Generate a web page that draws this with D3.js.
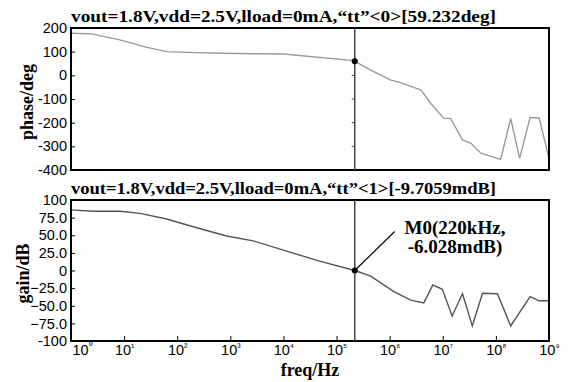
<!DOCTYPE html>
<html lang="en">
<head>
    <meta charset="UTF-8">
    <title>Bode plot</title>
    <script src="https://cdnjs.cloudflare.com/ajax/libs/d3/7.8.5/d3.min.js"></script>
    <style>
        body { margin: 0; padding: 0; background: #fff; }
        svg { display: block; }
        .title { font-family: "Liberation Serif", "Times New Roman", serif; font-size: 17px; font-weight: bold; }
        .ann { font-family: "Liberation Serif", "Times New Roman", serif; font-size: 19px; font-weight: bold; }
        .ylab, .xlab { font-family: "Liberation Serif", "Times New Roman", serif; font-size: 18px; font-weight: bold; }
        .tick text { font-family: "Liberation Sans", Arial, sans-serif; font-size: 14.5px; fill: #000; }
        .frame { fill: none; stroke: #000; stroke-width: 2px; }
    </style>
</head>
<body>
<div id="chart"></div>
<script>
// data
const phaseFreq = [1, 2.45, 8.3, 27, 63, 150, 650, 1e4, 2.1e5, 4.4e5, 1.05e6, 1.6e6, 3.9e6, 5.9e6, 1.05e7, 1.4e7, 2.35e7, 3.4e7, 5.2e7, 1.23e8, 1.9e8, 2.8e8, 4.4e8, 6.5e8, 1e9];
const phaseDeg  = [178, 175, 150, 118, 100, 97, 93, 90, 62, 22, -20, -31, -62, -118, -182, -182, -273, -287, -329, -355, -182, -351, -179, -179, -351];

const gainFreq = [1, 2.6, 8.3, 20, 63, 200, 850, 2700, 1e4, 4.4e4, 2.2e5, 4.4e5, 1.2e6, 2.5e6, 4.4e6, 6.5e6, 9.8e6, 1.5e7, 2.35e7, 3.6e7, 5.6e7, 1.07e8, 1.9e8, 4.4e8, 6.5e8, 1e9];
const gainDb   = [86, 84, 84, 81, 73, 62, 49, 42, 29, 14, 0, -8, -30, -42, -46, -20.5, -26.7, -64.5, -33, -78.7, -32.3, -33, -78.7, -37, -43, -43];

const phaseTicks = [200, 100, 0, -100, -200, -300, -400];
const gainTicks = [100, 75, 50, 25, 0, -25, -50, -75, -100];
const freqTicks = [1, 1e1, 1e2, 1e3, 1e4, 1e5, 1e6, 1e7, 1e8, 1e9];

const markerFreq = 2.2e5;
const markerPhase = 59.232;
const markerGain = 0;

const W = 568, H = 382;
const left = 71, right = 549;

const svg = d3.select("#chart").append("svg")
    .attr("width", W).attr("height", H);

const x = d3.scaleLog().domain([1, 1e9]).range([left, right]);
const yP = d3.scaleLinear().domain([-400, 200]).range([170, 28]);
const yG = d3.scaleLinear().domain([-100, 100]).range([341, 200]);

const sup = "⁰¹²³⁴⁵⁶⁷⁸⁹";

function drawPanel(y, ticks, fmt, xs, ys, color, title, label, labelX, withX) {
    const g = svg.append("g");
    const [y0, y1] = y.range();

    g.append("g")
        .attr("transform", `translate(${left},0)`)
        .call(d3.axisLeft(y).tickValues(ticks).tickSize(-4).tickPadding(4).tickFormat(fmt))
        .call(a => a.select(".domain").remove())
        .call(a => a.selectAll("line").attr("stroke", "#000"));

    if (withX) {
        g.append("g")
            .attr("transform", `translate(0,${y0})`)
            .call(d3.axisBottom(x).tickValues(freqTicks).tickSize(-5).tickPadding(2).tickFormat(() => ""))
            .call(a => a.select(".domain").remove())
            .call(a => a.selectAll("line").attr("stroke", "#000"))
            .call(a => a.selectAll(".tick text").each(function (d, i) {
                const t = d3.select(this).attr("dy", "0.85em");
                if (i === 0) t.attr("text-anchor", "start").attr("x", 1);
                t.append("tspan").text("10");
                t.append("tspan").attr("font-size", "10px").attr("dy", "-0.5em").text(sup[Math.round(Math.log10(d))]);
            }));
    }

    const line = d3.line().x(d => x(d[0])).y(d => y(d[1]));
    g.append("path")
        .datum(xs.map((f, i) => [f, ys[i]]))
        .attr("d", line)
        .attr("fill", "none")
        .attr("stroke", color)
        .attr("stroke-width", 1.4);

    g.append("rect").attr("class", "frame")
        .attr("x", left).attr("y", y1)
        .attr("width", right - left).attr("height", y0 - y1);

    g.append("text").attr("class", "title")
        .attr("x", left).attr("y", y1 - 6)
        .attr("textLength", 425).attr("lengthAdjust", "spacingAndGlyphs")
        .text(title);

    g.append("text").attr("class", "ylab")
        .attr("transform", `translate(${labelX},${(y0 + y1) / 2 + 3}) rotate(-90)`)
        .attr("text-anchor", "middle")
        .text(label);
}

drawPanel(yP, phaseTicks, d => d, phaseFreq, phaseDeg, "#9a9a9a",
    "vout=1.8V,vdd=2.5V,lload=0mA,“tt”<0>[59.232deg]", "phase/deg", 33, false);
drawPanel(yG, gainTicks, d => (d === 0 || d === 100 || d === -100) ? d : d3.format(".1f")(d), gainFreq, gainDb, "#555",
    "vout=1.8V,vdd=2.5V,lload=0mA,“tt”<1>[-9.7059mdB]", "gain/dB", 29, true);

// cursor line through both panels
const cx = x(markerFreq);
[yP, yG].forEach(y => {
    svg.append("line")
        .attr("x1", cx).attr("x2", cx)
        .attr("y1", y.range()[1]).attr("y2", y.range()[0])
        .attr("stroke", "#444").attr("stroke-width", 1.5);
});
svg.selectAll(".cur-tick")
    .data([0, -100, -200, -300])
    .enter().append("line")
    .attr("x1", cx - 3).attr("x2", cx)
    .attr("y1", d => yP(d)).attr("y2", d => yP(d))
    .attr("stroke", "#444");

svg.append("circle").attr("cx", cx).attr("cy", yP(markerPhase)).attr("r", 3).attr("fill", "#000");
svg.append("circle").attr("cx", cx).attr("cy", yG(markerGain)).attr("r", 3).attr("fill", "#000");

// annotation
svg.append("line")
    .attr("x1", cx + 1).attr("y1", yG(markerGain) - 1)
    .attr("x2", cx + 40).attr("y2", yG(markerGain) - 39)
    .attr("stroke", "#000").attr("stroke-width", 1.2);
const ann = svg.append("text").attr("class", "ann")
    .attr("text-anchor", "middle");
ann.append("tspan").attr("x", 455).attr("y", 234).text("M0(220kHz,");
ann.append("tspan").attr("x", 455).attr("y", 253).text("-6.028mdB)");

svg.append("text").attr("class", "xlab")
    .attr("x", 310).attr("y", 376)
    .attr("text-anchor", "middle")
    .text("freq/Hz");
</script>
</body>
</html>
